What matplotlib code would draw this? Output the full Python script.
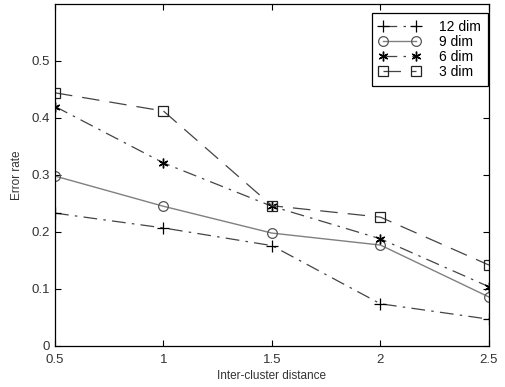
import matplotlib
matplotlib.use('Agg')
import matplotlib.pyplot as plt

plt.rcParams['font.family'] = ['Liberation Sans', 'DejaVu Sans']
plt.rcParams['font.size'] = 9

distance = [0.5, 1.0, 1.5, 2.0, 2.5]
err_12 = [0.233, 0.207, 0.176, 0.074, 0.047]
err_9 = [0.298, 0.245, 0.198, 0.177, 0.086]
err_6 = [0.420, 0.321, 0.245, 0.188, 0.104]
err_3 = [0.444, 0.412, 0.246, 0.226, 0.142]

fig = plt.figure(figsize=(5.05, 3.87), dpi=100)
ax = fig.add_axes([0.109, 0.106, 0.859, 0.884])

dark = '#444444'
ax.plot(distance, err_12, linestyle=(0, (11, 5, 2, 5)), color=dark, lw=0.9,
        marker='+', ms=9, mew=0.9, mec='black', label='12 dim')
ax.plot(distance, err_9, linestyle='-', color='#808080', lw=1.0,
        marker='o', ms=7, mfc='none', mew=0.9, mec='#555555', label='9 dim')
ax.plot(distance, err_6, linestyle=(0, (11, 5, 2, 5)), color=dark, lw=0.9,
        marker=(6, 2, 0), ms=7, mew=1.0, mec='black', label='6 dim')
ax.plot(distance, err_3, linestyle=(0, (14, 8)), color=dark, lw=0.9,
        marker='s', ms=7, mfc='none', mew=0.9, mec='#222222', label='3 dim')

ax.set_xlim(0.5, 2.5)
ax.set_ylim(0, 0.6)
ax.set_xticks([0.5, 1, 1.5, 2, 2.5])
ax.set_xticklabels(['0.5', '1', '1.5', '2', '2.5'])
ax.set_yticks([0, 0.1, 0.2, 0.3, 0.4, 0.5])
ax.set_yticklabels(['0', '0.1', '0.2', '0.3', '0.4', '0.5'])
ax.tick_params(direction='in', top=True, right=True, length=4, width=0.8,
               labelsize=9.5, colors='black', labelcolor='#333333')
ax.tick_params(axis='x', pad=6)
for s in ax.spines.values():
    s.set_linewidth(0.9)

ax.set_xlabel('Inter-cluster distance', fontsize=8.5, color='#333333', labelpad=3)
ax.set_ylabel('Error rate', fontsize=8.5, color='#333333', labelpad=6)

leg = ax.legend(loc='upper right', bbox_to_anchor=(0.997, 0.974), numpoints=2,
                fancybox=False, framealpha=1, edgecolor='black', fontsize=10,
                handlelength=3.0, borderaxespad=0, borderpad=0.5,
                labelspacing=0.08, handletextpad=1.3)
leg.get_frame().set_linewidth(0.9)

fig.savefig('out.png', dpi=100)
